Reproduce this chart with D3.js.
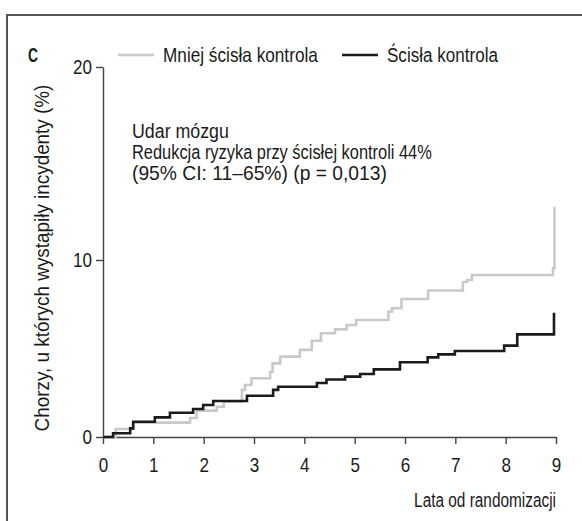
<!DOCTYPE html>
<html lang="pl">
<head>
  <meta charset="UTF-8">
  <title>Udar mózgu – krzywe skumulowanych incydentów</title>
  <script src="https://d3js.org/d3.v7.min.js"></script>
  <style>
    body { margin: 0; background: #fff; }
    svg { display: block; font-family: "Liberation Sans", Arial, sans-serif; }
    .axis path, .axis line { stroke: #444; stroke-width: 1.4px; }
    .axis text { fill: #1a1a1a; font-size: 20px; font-family: inherit; }
    .lbl { fill: #1a1a1a; font-size: 20px; }
  </style>
</head>
<body>
<svg width="582" height="521"></svg>
<script>
  // years since randomisation / cumulative % (step points)
  const lessTimes  = [0, 0.25, 0.60, 1.73, 1.86, 2.26, 2.40, 2.76, 2.82, 2.95, 3.32, 3.37, 3.52, 3.91, 4.15, 4.33, 4.61, 4.84, 5.03, 5.67, 5.74, 5.93, 6.46, 7.15, 7.23, 7.33, 8.94, 8.97];
  const lessValues = [0, 0.45, 0.81, 1.07, 1.49, 1.71, 1.99, 2.66, 2.94, 3.32, 3.69, 4.16, 4.54, 4.92, 5.44, 5.86, 6.08, 6.33, 6.61, 7.08, 7.27, 7.80, 8.28, 8.76, 8.87, 9.15, 9.53, 12.75];

  const strictTimes  = [0, 0.20, 0.54, 0.60, 1.03, 1.33, 1.79, 1.99, 2.19, 2.86, 3.38, 3.48, 4.25, 4.44, 4.81, 5.11, 5.38, 5.90, 6.45, 6.66, 6.99, 7.97, 8.23, 8.96];
  const strictValues = [0, 0.21, 0.49, 0.86, 1.11, 1.37, 1.58, 1.81, 2.03, 2.33, 2.66, 2.84, 3.05, 3.25, 3.41, 3.56, 3.82, 4.22, 4.50, 4.67, 4.86, 5.16, 5.80, 7.02];

  const xTicks = [0, 1, 2, 3, 4, 5, 6, 7, 8, 9];
  const yTicks = [0, 10, 20];

  const seriesNames = ["Mniej ścisła kontrola", "Ścisła kontrola"];
  const seriesColors = ["#c9c9c9", "#1b1b1b"];

  const svg = d3.select("svg");

  // the printed font is a condensed grotesk: scale each text horizontally
  // (around its anchor point) so it covers its printed width
  function squeeze(sel, w) {
    sel.each(function() {
      const t = d3.select(this);
      const k = w / this.getComputedTextLength();
      const x0 = +t.attr("x") || 0, y0 = +t.attr("y") || 0;
      const prev = t.attr("transform") || "";
      t.attr("transform", `${prev} translate(${x0},${y0}) scale(${k},1) translate(${-x0},${-y0})`);
    });
  }

  // outer frame (only left and top edges show inside the window)
  svg.append("rect")
     .attr("x", 7).attr("y", 15)
     .attr("width", 620).attr("height", 560)
     .attr("fill", "none")
     .attr("stroke", "#555")
     .attr("stroke-width", 2);

  const x = d3.scaleLinear().domain([0, 9]).range([103, 556]);
  // the printed axis is not evenly spaced, so use the three tick positions
  const y = d3.scaleLinear().domain([0, 10, 20]).range([437, 260, 67]);

  const xAxis = svg.append("g")
     .attr("class", "axis")
     .attr("transform", "translate(0,437)")
     .call(d3.axisBottom(x).tickValues(xTicks).tickSizeInner(7).tickSizeOuter(0).tickPadding(14).tickFormat(d3.format("d")));

  const yAxis = svg.append("g")
     .attr("class", "axis")
     .attr("transform", "translate(103,0)")
     .call(d3.axisLeft(y).tickValues(yTicks).tickSizeInner(7).tickSizeOuter(0).tickPadding(4).tickFormat(d3.format("d")));

  // narrow digits like the print
  [xAxis, yAxis].forEach(g => g.selectAll(".tick text")
     .each(function(d) { d3.select(this).call(squeeze, String(d).length * 9.5); }));

  const line = d3.line()
                 .x(d => x(d[0]))
                 .y(d => y(d[1]))
                 .curve(d3.curveStepAfter);

  const lessData = lessTimes.map((t, i) => [t, lessValues[i]]);
  const strictData = strictTimes.map((t, i) => [t, strictValues[i]]);

  svg.append("path")
     .datum(lessData)
     .attr("d", line)
     .attr("fill", "none")
     .attr("stroke", seriesColors[0])
     .attr("stroke-width", 2.6);

  svg.append("path")
     .datum(strictData)
     .attr("d", line)
     .attr("fill", "none")
     .attr("stroke", seriesColors[1])
     .attr("stroke-width", 2.6);

  // panel letter
  svg.append("text")
     .attr("x", 28).attr("y", 62)
     .attr("font-size", "21px")
     .attr("font-weight", "bold")
     .attr("fill", "#1a1a1a")
     .text("C")
     .call(squeeze, 10);

  // legend
  const legendX = [118, 342];
  const legendW = [155, 111];
  seriesNames.forEach((name, i) => {
    svg.append("line")
       .attr("x1", legendX[i]).attr("x2", legendX[i] + 36)
       .attr("y1", 55).attr("y2", 55)
       .attr("stroke", seriesColors[i])
       .attr("stroke-width", 2.6);
    svg.append("text")
       .attr("class", "lbl")
       .attr("x", legendX[i] + 45).attr("y", 62)
       .text(name)
       .call(squeeze, legendW[i]);
  });

  // annotation
  const notes = ["Udar mózgu",
                 "Redukcja ryzyka przy ścisłej kontroli 44%",
                 "(95% CI: 11–65%) (p = 0,013)"];
  const notesW = [97, 300, 255];
  svg.selectAll("text.note")
     .data(notes)
     .join("text")
     .attr("class", "lbl note")
     .attr("x", 132)
     .attr("y", (d, i) => 138 + i * 21)
     .text(d => d)
     .each(function(d, i) { d3.select(this).call(squeeze, notesW[i]); });

  // axis titles
  svg.append("text")
     .attr("class", "lbl")
     .attr("x", 556).attr("y", 507)
     .attr("text-anchor", "end")
     .text("Lata od randomizacji")
     .call(squeeze, 142);

  svg.append("text")
     .attr("class", "lbl")
     .attr("transform", "translate(49,258) rotate(-90)")
     .attr("text-anchor", "middle")
     .text("Chorzy, u których wystąpiły incydenty (%)")
     .call(squeeze, 347);
</script>
</body>
</html>
